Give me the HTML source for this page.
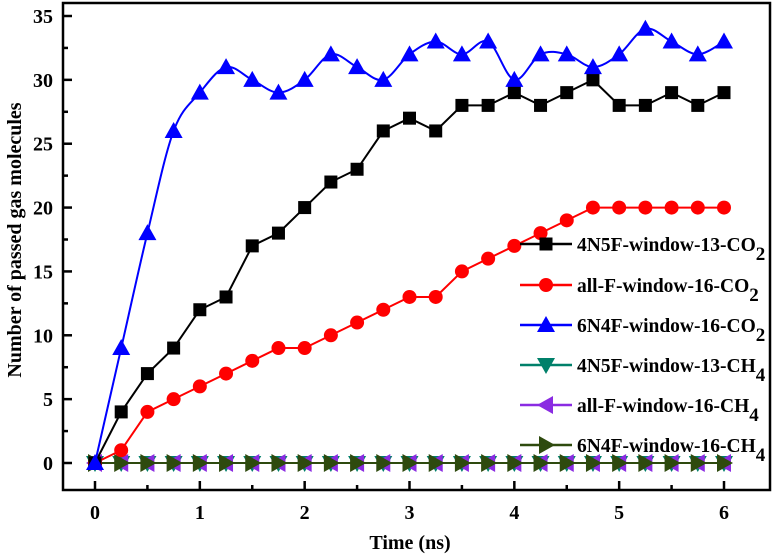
<!DOCTYPE html>
<html><head><meta charset="utf-8"><style>
html,body{margin:0;padding:0;background:#fff;}
svg{display:block;font-family:"Liberation Serif",serif;font-weight:bold;}
</style></head><body>
<svg id="chart" width="779" height="555"></svg>
<script>
const times=[0,0.25,0.5,0.75,1,1.25,1.5,1.75,2,2.25,2.5,2.75,3,3.25,3.5,3.75,4,4.25,4.5,4.75,5,5.25,5.5,5.75,6];
const co2_4n5f=[0,4,7,9,12,13,17,18,20,22,23,26,27,26,28,28,29,28,29,30,28,28,29,28,29];
const co2_allF=[0,1,4,5,6,7,8,9,9,10,11,12,13,13,15,16,17,18,19,20,20,20,20,20,20];
const co2_6n4f=[0,9,18,26,29,31,30,29,30,32,31,30,32,33,32,33,30,32,32,31,32,34,33,32,33];
const ch4_4n5f=[0,0,0,0,0,0,0,0,0,0,0,0,0,0,0,0,0,0,0,0,0,0,0,0,0];
const ch4_allF=[0,0,0,0,0,0,0,0,0,0,0,0,0,0,0,0,0,0,0,0,0,0,0,0,0];
const ch4_6n4f=[0,0,0,0,0,0,0,0,0,0,0,0,0,0,0,0,0,0,0,0,0,0,0,0,0];
const xTicks=[0,1,2,3,4,5,6];
const yTicks=[0,5,10,15,20,25,30,35];
const legendLabels=["4N5F-window-13-CO","all-F-window-16-CO","6N4F-window-16-CO","4N5F-window-13-CH","all-F-window-16-CH","6N4F-window-16-CH"];
const legendSubs=["2","2","2","4","4","4"];

const svg=document.getElementById('chart');
const NS='http://www.w3.org/2000/svg';
const L=63,R=770,T=3,B=490;
const X=t=>95+t*(724-95)/6;
const Y=v=>463-v*(463-16)/35;
function el(tag,attrs,parent){const e=document.createElementNS(NS,tag);for(const k in attrs)e.setAttribute(k,attrs[k]);(parent||svg).appendChild(e);return e;}

const frame=el('rect',{x:L,y:T,width:R-L,height:B-T,fill:'none',stroke:'#000','stroke-width':2.5});


xTicks.forEach(t=>{
  const tk=el('line',{x1:X(t),x2:X(t),y1:B,y2:B-9,stroke:'#000','stroke-width':2.5});
  
  
  const lb=el('text',{x:X(t),y:B+29,'text-anchor':'middle','font-size':20});
  lb.textContent=t;
  
  
  if(t<6){const mt=el('line',{x1:X(t+0.5),x2:X(t+0.5),y1:B,y2:B-5,stroke:'#000','stroke-width':2.5});
  
  }
});
yTicks.forEach(v=>{
  const tk=el('line',{x1:L,x2:L+9,y1:Y(v),y2:Y(v),stroke:'#000','stroke-width':2.5});
  
  
  const lb=el('text',{x:L-10,y:Y(v)+7,'text-anchor':'end','font-size':20});
  lb.textContent=v;
  
  
  if(v>0){const mt=el('line',{x1:L,x2:L+5,y1:Y(v-2.5),y2:Y(v-2.5),stroke:'#000','stroke-width':2.5});
  
  }
});
const xt=el('text',{x:410,y:549,'text-anchor':'middle','font-size':20});
xt.textContent='Time (ns)';


const yt=el('text',{x:0,y:0,'text-anchor':'middle','font-size':20,transform:'translate(21,240) rotate(-90)'});
yt.textContent='Number of passed gas molecules';



function marker(g,type,x,y,color){
  let m;
  if(type==='square')m=el('rect',{x:x-6.5,y:y-6.5,width:13,height:13,fill:color},g);
  else if(type==='circle')m=el('circle',{cx:x,cy:y,r:7,fill:color},g);
  else if(type==='up')m=el('polygon',{points:`${x},${y-9} ${x-9},${y+7} ${x+9},${y+7}`,fill:color},g);
  else if(type==='down')m=el('polygon',{points:`${x},${y+9} ${x-9},${y-7} ${x+9},${y-7}`,fill:color},g);
  else if(type==='left')m=el('polygon',{points:`${x-9},${y} ${x+7},${y-9} ${x+7},${y+9}`,fill:color},g);
  else m=el('polygon',{points:`${x+9},${y} ${x-7},${y-9} ${x-7},${y+9}`,fill:color},g);
  
  
}
function smoothPath(pts){
  let d=`M${pts[0][0]},${pts[0][1]}`;
  for(let i=0;i<pts.length-1;i++){
    const p0=pts[Math.max(0,i-1)],p1=pts[i],p2=pts[i+1],p3=pts[Math.min(pts.length-1,i+2)];
    const c1=[p1[0]+(p2[0]-p0[0])/6,p1[1]+(p2[1]-p0[1])/6];
    const c2=[p2[0]-(p3[0]-p1[0])/6,p2[1]-(p3[1]-p1[1])/6];
    d+=` C${c1[0]},${c1[1]} ${c2[0]},${c2[1]} ${p2[0]},${p2[1]}`;
  }
  return d;
}
const series=[
  {vals:ch4_4n5f,color:'#00806a',m:'down',name:'series-4n5f-ch4'},
  {vals:ch4_allF,color:'#8a2be2',m:'left',name:'series-allf-ch4'},
  {vals:ch4_6n4f,color:'#2e4a0e',m:'right',name:'series-6n4f-ch4'},
  {vals:co2_allF,color:'#ff0000',m:'circle',name:'series-allf-co2'},
  {vals:co2_4n5f,color:'#000000',m:'square',name:'series-4n5f-co2'},
  {vals:co2_6n4f,color:'#0000ff',m:'up',name:'series-6n4f-co2',smooth:true},
];
series.forEach(s=>{
  const g=el('g',{});
  
  
  const pts=s.vals.map((v,i)=>[X(times[i]),Y(v)]);
  const d=s.smooth?smoothPath(pts):'M'+pts.map(p=>p.join(',')).join(' L');
  const p=el('path',{d,fill:'none',stroke:s.color,'stroke-width':2},g);
  
  
  pts.forEach(pt=>marker(g,s.m,pt[0],pt[1],s.color));
});
const legColors=['#000000','#ff0000','#0000ff','#00806a','#8a2be2','#2e4a0e'];
const legMarks=['square','circle','up','down','left','right'];
const legY=[244,285,325,365,405,445];
legendLabels.forEach((lab,i)=>{
  const g=el('g',{});
  
  
  el('line',{x1:520,x2:572,y1:legY[i],y2:legY[i],stroke:legColors[i],'stroke-width':2.5},g);
  marker(g,legMarks[i],546,legY[i],legColors[i]);
  const t=el('text',{x:577,y:legY[i]+7,'font-size':19.5},g);
  t.textContent=lab;
  const sub=el('tspan',{dy:9,'font-size':19},t);
  sub.textContent=legendSubs[i];
  
  
});
</script>
</body></html>
